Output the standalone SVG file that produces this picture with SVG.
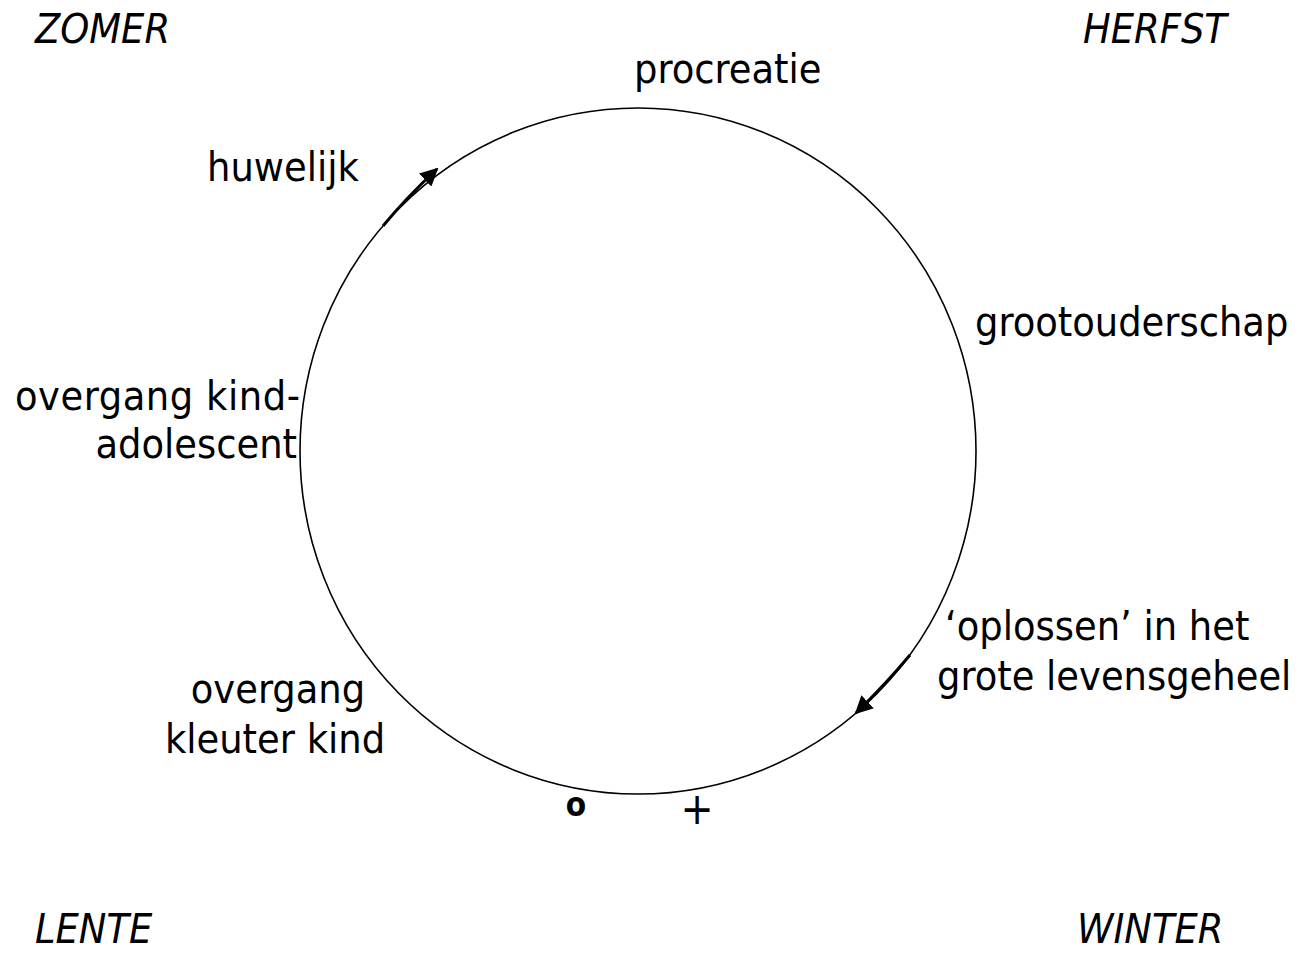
<svg xmlns="http://www.w3.org/2000/svg" width="1297" height="953" viewBox="0 0 1297 953">
<defs>
<style>
text{font-family:"DejaVu Sans Condensed","DejaVu Sans",sans-serif;font-stretch:condensed;font-size:41px;fill:#000}
.season{font-style:italic}
.mid{text-anchor:middle}
.end{text-anchor:end}
.cycle{fill:none;stroke:#000;stroke-width:1.6}
.arrow{fill:none;stroke:#000;stroke-width:3}
</style>
<marker id="ah" viewBox="0 0 10 10" refX="9" refY="5" markerWidth="6" markerHeight="6" markerUnits="strokeWidth" orient="auto">
<path d="M0,0 L10,5 L0,10 z" fill="#000"/>
</marker>
</defs>
<rect width="1297" height="953" fill="#fff"/>
<g id="cycle"><ellipse class="cycle" cx="638" cy="451" rx="338" ry="343"/></g>
<g id="connectors">
<path class="arrow" d="M383,226 Q405,199 437,169" marker-end="url(#ah)"/>
<path class="arrow" d="M910,655 Q885,685 856,713" marker-end="url(#ah)"/>
</g>
<g id="zomer"><text class="season" x="35" y="43">ZOMER</text></g>
<g id="herfst"><text class="season" x="1083" y="43">HERFST</text></g>
<g id="lente"><text class="season" x="35" y="943">LENTE</text></g>
<g id="winter"><text class="season" x="1077" y="943">WINTER</text></g>
<g id="procreatie"><text x="634" y="83">procreatie</text></g>
<g id="huwelijk"><text x="207" y="181">huwelijk</text></g>
<g id="grootouderschap"><text x="975" y="336">grootouderschap</text></g>
<g id="overgang-kind-adolescent"><text class="end" x="300" y="410" textLength="285">overgang kind-</text><text class="end" x="297" y="458">adolescent</text></g>
<g id="oplossen"><text x="945" y="640">‘oplossen’ in het</text><text x="937" y="690">grote levensgeheel</text></g>
<g id="overgang-kleuter-kind"><text class="mid" x="278" y="703">overgang</text><text class="mid" x="275" y="753">kleuter kind</text></g>
<g id="min"><text class="mid" x="576" y="816" style="font-size:33px;font-weight:bold">o</text></g>
<g id="plus"><text class="mid" x="697" y="824" style="font-size:44px">+</text></g>
</svg>
